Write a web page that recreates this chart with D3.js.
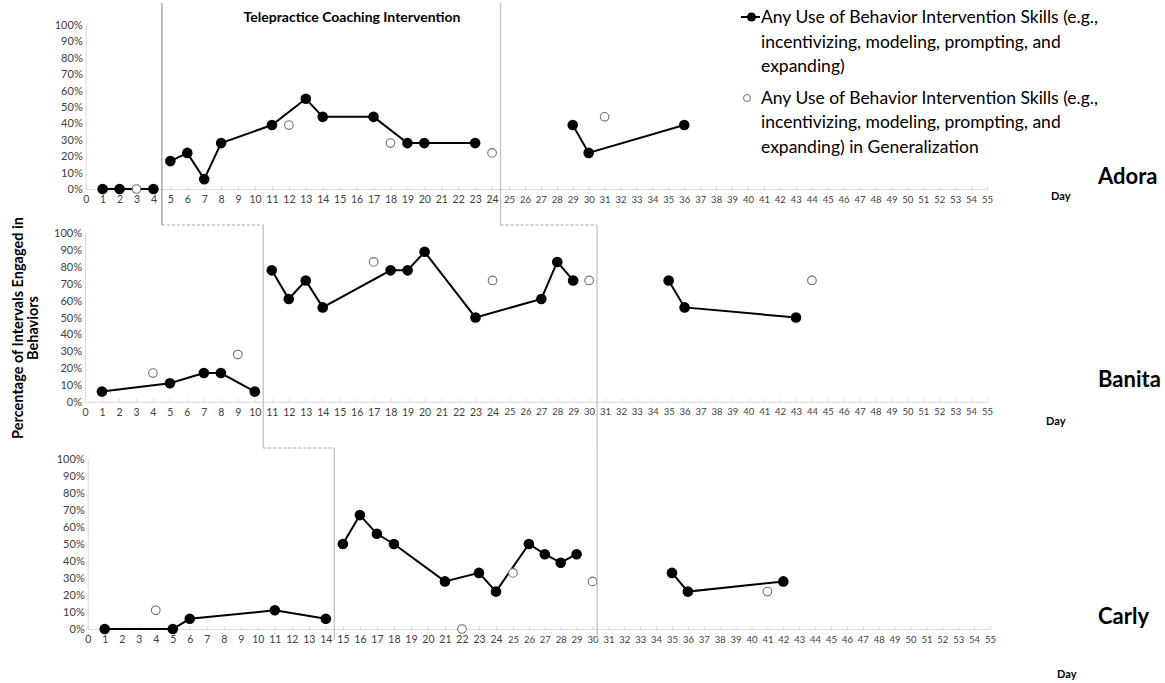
<!DOCTYPE html>
<html>
<head>
<meta charset="utf-8">
<script src="https://cdn.jsdelivr.net/npm/d3@7"></script>
<style>
  body { margin: 0; background: #fff; }
  svg { display: block; font-family: Lato, "Open Sans", sans-serif; }
</style>
</head>
<body>
<svg id="chart" width="1165" height="683"></svg>
<script>
// ---- data ----
const dayTicks = d3.range(0, 56);
const pctTicks = [0, 10, 20, 30, 40, 50, 60, 70, 80, 90, 100];

// Adora
const adoraDays   = [1, 2, 4, 5, 6, 7, 8, 11, 13, 14, 17, 19, 20, 23, 29, 30, 36];
const adoraSkills = [0, 0, 0, 17, 22, 6, 28, 39, 55, 44, 44, 28, 28, 28, 39, 22, 39];
const adoraGenDays = [3, 12, 18, 24, 31];
const adoraGen     = [0, 39, 28, 22, 44];
const adoraPhaseChanges = [4.5, 24.5];

// Banita
const banitaDays   = [1, 5, 7, 8, 10, 11, 12, 13, 14, 18, 19, 20, 23, 27, 28, 29, 35, 36, 43];
const banitaSkills = [6, 11, 17, 17, 6, 78, 61, 72, 56, 78, 78, 89, 50, 61, 83, 72, 72, 56, 50];
const banitaGenDays = [4, 9, 17, 24, 30, 44];
const banitaGen     = [17, 28, 83, 72, 72, 72];
const banitaPhaseChanges = [10.5, 30.5];

// Carly
const carlyDays   = [1, 5, 6, 11, 14, 15, 16, 17, 18, 21, 23, 24, 26, 27, 28, 29, 35, 36, 42];
const carlySkills = [0, 0, 6, 11, 6, 50, 67, 56, 50, 28, 33, 22, 50, 44, 39, 44, 33, 22, 28];
const carlyGenDays = [4, 22, 25, 30, 41];
const carlyGen     = [11, 0, 33, 28, 22];
const carlyPhaseChanges = [14.5, 30.3];

const legendMain = ["Any Use of Behavior Intervention Skills (e.g.,", "incentivizing, modeling, prompting, and", "expanding)"];
const legendGen  = ["Any Use of Behavior Intervention Skills (e.g.,", "incentivizing, modeling, prompting, and", "expanding) in Generalization"];

// ---- layout ----
const panels = [
  { name: "Adora", days: adoraDays, vals: adoraSkills, gDays: adoraGenDays, gVals: adoraGen, phases: adoraPhaseChanges,
    xr: [85.7, 509, 987], yr: [189, 25], lineY: [3, 225], nameX: 1098, nameY: 184, dayX: 1051, dayY: 200 },
  { name: "Banita", days: banitaDays, vals: banitaSkills, gDays: banitaGenDays, gVals: banitaGen, phases: banitaPhaseChanges,
    xr: [85, 509.5, 987], yr: [401.7, 233.3], lineY: [225, 448], nameX: 1098, nameY: 387, dayX: 1046, dayY: 425 },
  { name: "Carly", days: carlyDays, vals: carlySkills, gDays: carlyGenDays, gVals: carlyGen, phases: carlyPhaseChanges,
    xr: [87.7, 513, 990], yr: [629, 459], lineY: [448, 640], nameX: 1098, nameY: 624, dayX: 1057, dayY: 678 }
];

const svg = d3.select("#chart");
const axisGrey = "#d9d9d9";
const labelGrey = "#404040";

panels.forEach(p => {
  // the panels were pasted together, so the day spacing changes at day 25
  p.x = d3.scaleLinear().domain([0, 25, 55]).range(p.xr);
  p.y = d3.scaleLinear().domain([0, 100]).range(p.yr);
});

panels.forEach(p => {
  const g = svg.append("g");

  // x axis
  const xAxis = g.append("g")
    .attr("transform", `translate(0,${p.y(0)})`)
    .call(d3.axisBottom(p.x).tickValues(dayTicks).tickFormat(d3.format("d")).tickSizeInner(-3).tickSizeOuter(0).tickPadding(7));
  xAxis.select(".domain").attr("stroke", axisGrey);
  xAxis.selectAll(".tick line").attr("stroke", axisGrey);
  xAxis.selectAll(".tick text").attr("fill", labelGrey)
    .attr("font-size", d => d >= 25 ? 9.5 : 10.5).attr("font-family", "Lato, sans-serif");

  // y axis
  const yAxis = g.append("g")
    .attr("transform", `translate(${p.x(0)},0)`)
    .call(d3.axisLeft(p.y).tickValues(pctTicks).tickFormat(d => d + "%").tickSize(0).tickPadding(3));
  yAxis.select(".domain").attr("stroke", axisGrey);
  yAxis.selectAll(".tick text").attr("fill", labelGrey).attr("font-size", 11).attr("font-family", "Lato, sans-serif");

  // connected data by phase
  const pts = p.days.map((d, i) => ({ day: d, v: p.vals[i], phase: d3.bisect(p.phases, d) }));
  const line = d3.line().x(d => p.x(d.day)).y(d => p.y(d.v));
  const groups = d3.groups(pts, d => d.phase);
  g.selectAll(".seg")
    .data(groups)
    .join("path")
    .attr("class", "seg")
    .attr("fill", "none")
    .attr("stroke", "#000")
    .attr("stroke-width", 2)
    .attr("d", d => line(d[1]));

  g.selectAll(".dot")
    .data(pts)
    .join("circle")
    .attr("class", "dot")
    .attr("cx", d => p.x(d.day))
    .attr("cy", d => p.y(d.v))
    .attr("r", 5.3)
    .attr("fill", "#000");

  // generalization probes
  g.selectAll(".gen")
    .data(p.gDays.map((d, i) => ({ day: d, v: p.gVals[i] })))
    .join("circle")
    .attr("class", "gen")
    .attr("cx", d => p.x(d.day))
    .attr("cy", d => p.y(d.v))
    .attr("r", 4.3)
    .attr("fill", "#fff")
    .attr("stroke", "#6e6e6e")
    .attr("stroke-width", 1.1);

  // participant name and "Day"
  g.append("text")
    .attr("x", p.nameX).attr("y", p.nameY)
    .attr("font-size", 22).attr("font-weight", 700).attr("fill", "#000")
    .text(p.name);
  g.append("text")
    .attr("x", p.dayX).attr("y", p.dayY)
    .attr("font-size", 11).attr("font-weight", 700).attr("fill", "#000")
    .text("Day");
});

// phase change lines (stepped across the panels)
const phaseG = svg.append("g");
panels.forEach((p, pi) => {
  p.phases.forEach((ph, li) => {
    phaseG.append("line")
      .attr("x1", p.x(ph)).attr("x2", p.x(ph))
      .attr("y1", p.lineY[0]).attr("y2", p.lineY[1])
      .attr("stroke", pi === 0 && li === 0 ? "#808080" : "#c4c4c4")
      .attr("stroke-width", pi === 0 && li === 0 ? 1 : 1.3);
    if (pi < panels.length - 1) {
      const next = panels[pi + 1];
      const xa = p.x(ph), xb = next.x(next.phases[li]);
      if (Math.abs(xb - xa) > 2) {
        phaseG.append("line")
          .attr("x1", xa).attr("x2", xb)
          .attr("y1", p.lineY[1]).attr("y2", p.lineY[1])
          .attr("stroke", "#a6a6a6")
          .attr("stroke-dasharray", "3,2");
      }
    }
  });
});

// phase title
svg.append("text")
  .attr("x", 352).attr("y", 22)
  .attr("text-anchor", "middle")
  .attr("font-size", 14).attr("font-weight", 700).attr("fill", "#000")
  .text("Telepractice Coaching Intervention");

// y label
const yLab = svg.append("text")
  .attr("transform", "translate(0,328) rotate(-90)")
  .attr("text-anchor", "middle")
  .attr("font-size", 14.5).attr("font-weight", 700).attr("fill", "#000");
yLab.append("tspan").attr("x", 0).attr("y", 23).text("Percentage of Intervals Engaged in");
yLab.append("tspan").attr("x", 0).attr("y", 38).text("Behaviors");

// legend
const leg = svg.append("g").attr("font-size", 17.5).attr("fill", "#000");
leg.append("line").attr("x1", 741).attr("x2", 760).attr("y1", 17).attr("y2", 17)
  .attr("stroke", "#000").attr("stroke-width", 2);
leg.append("circle").attr("cx", 751.5).attr("cy", 17).attr("r", 4.5).attr("fill", "#000");
leg.selectAll(".l1").data(legendMain).join("text").attr("class", "l1")
  .attr("x", 761).attr("y", (d, i) => 23 + i * 24.5).text(d => d);

leg.append("circle").attr("cx", 747).attr("cy", 98).attr("r", 3.5)
  .attr("fill", "#fff").attr("stroke", "#6e6e6e").attr("stroke-width", 1);
leg.selectAll(".l2").data(legendGen).join("text").attr("class", "l2")
  .attr("x", 761).attr("y", (d, i) => 103.5 + i * 24.5).text(d => d);
</script>
</body>
</html>
